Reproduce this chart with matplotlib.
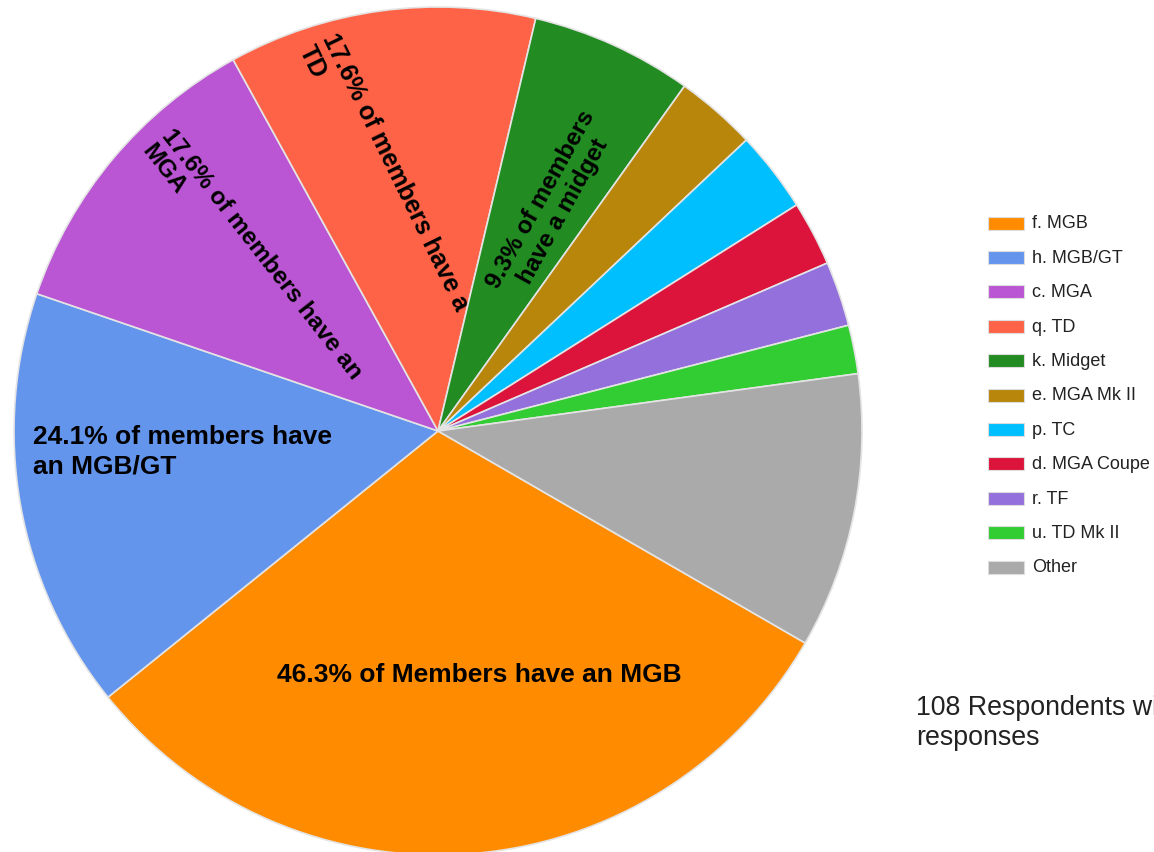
import matplotlib.pyplot as plt
from matplotlib.patches import Rectangle

plt.rcParams['font.family'] = ['Liberation Sans', 'DejaVu Sans']

# survey counts per model (108 respondents, multiple answers allowed)
models = ['f. MGB', 'h. MGB/GT', 'c. MGA', 'q. TD', 'k. Midget', 'e. MGA Mk II',
          'p. TC', 'd. MGA Coupe', 'r. TF', 'u. TD Mk II', 'Other']
counts = [50, 26, 19, 19, 10, 5, 5, 4, 4, 3, 17]
colors = ['#ff8c00', '#6495ed', '#ba55d3', '#ff6347', '#228b22', '#b8860b',
          '#00bfff', '#dc143c', '#9370db', '#32cd32', '#aaaaaa']

slice_labels = ['46.3% of Members have an MGB',
                '24.1% of members have\nan MGB/GT',
                '17.6% of members have an\nMGA',
                '17.6% of members have a\nTD',
                '9.3% of members\nhave a midget']

note = '108 Respondents with multiple\nresponses'

W, H = 1154, 853
fig = plt.figure(figsize=(W / 100, H / 100), dpi=100)
ax = fig.add_axes([0, 0, 1, 1])

# pie in pixel-like data coordinates
cx, cy, r = 438, H - 432, 424
ax.pie(counts, colors=colors, startangle=-30, counterclock=False,
       center=(cx, cy), radius=r,
       wedgeprops=dict(edgecolor='#e4e4e4', linewidth=1.2))

ax.set_xlim(0, W)
ax.set_ylim(0, H)
ax.set_aspect('equal')
ax.axis('off')

# in-slice labels
bold = dict(fontweight='bold', color='black')
ax.text(479, H - 675, slice_labels[0], ha='center', va='center', fontsize=19, **bold)
ax.text(33, H - 452, slice_labels[1], ha='left', va='center', fontsize=19,
        linespacing=1.27, **bold)
ax.text(252, H - 262, slice_labels[2], ha='center', va='center', fontsize=17.5,
        rotation=-52, rotation_mode='anchor', multialignment='left',
        linespacing=1.1, **bold)
ax.text(384, H - 178, slice_labels[3], ha='center', va='center', fontsize=18,
        rotation=-64, rotation_mode='anchor', multialignment='left',
        linespacing=1.1, **bold)
ax.text(552, H - 206, slice_labels[4], ha='center', va='center', fontsize=17.5,
        rotation=61, rotation_mode='anchor', multialignment='center',
        linespacing=1.1, **bold)

# legend drawn by hand
for i, (lab, col) in enumerate(zip(models, colors)):
    yc = H - (224 + i * 34.4)
    ax.add_patch(Rectangle((988, yc - 6.5), 36, 13, facecolor=col,
                           edgecolor='#dddddd', linewidth=0.8))
    ax.text(1032, yc, lab, ha='left', va='center', fontsize=13, color='#222222')

ax.text(916, H - 723, note, ha='left', va='center', fontsize=19.3,
        color='#222222', linespacing=1.2, clip_on=False)

fig.savefig('out.png', dpi=100)
